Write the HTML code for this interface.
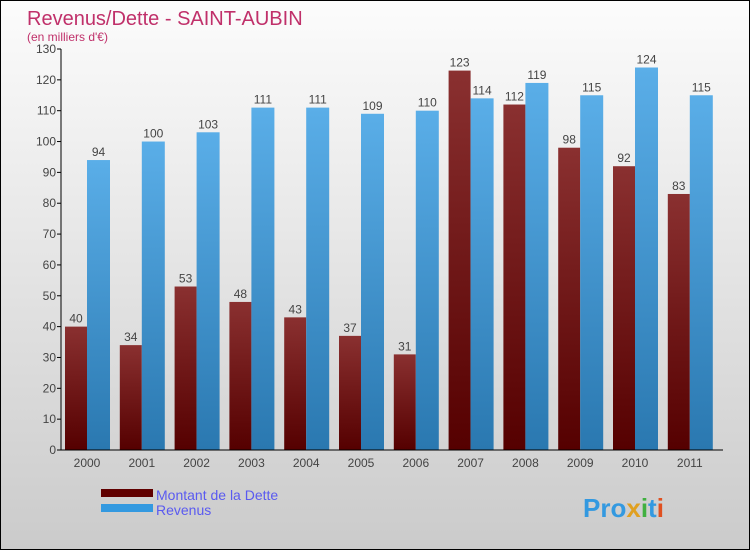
<!DOCTYPE html>
<html><head><meta charset="utf-8"><style>
body{margin:0}
#c{width:748px;height:548px;border:1px solid #000;background:linear-gradient(#fcfcfc,#cbcbcb);position:relative;font-family:"Liberation Sans",sans-serif}
</style></head><body>
<div id="c">
<svg width="748" height="548" id="s">
<defs>
<linearGradient id="gd" x1="0" y1="0" x2="0" y2="1"><stop offset="0" stop-color="#8a3030"/><stop offset="1" stop-color="#550000"/></linearGradient>
<linearGradient id="gr" x1="0" y1="0" x2="0" y2="1"><stop offset="0" stop-color="#5aaee8"/><stop offset="1" stop-color="#2a78b0"/></linearGradient>
</defs>
<text x="26" y="24" font-size="20" fill="#c0306a">Revenus/Dette - SAINT-AUBIN</text>
<text x="26" y="40" font-size="12" fill="#c0306a">(en milliers d'€)</text>
<g id="g"></g>
<rect x="100" y="488" width="52" height="8" fill="#600000"/>
<text x="155" y="499" font-size="14" fill="#5a5af0">Montant de la Dette</text>
<rect x="100" y="503" width="52" height="8" fill="#3399e0"/>
<text x="155" y="514" font-size="14" fill="#5a5af0">Revenus</text>
<text x="582" y="516" font-size="26" font-weight="bold" fill="#3399e0">Pro<tspan fill="#e0a020">x</tspan><tspan fill="#40b040">i</tspan>t<tspan fill="#e05020">i</tspan></text>
</svg>
</div>
<script>
const years=["2000","2001","2002","2003","2004","2005","2006","2007","2008","2009","2010","2011"];
const dette=[40,34,53,48,43,37,31,123,112,98,92,83];
const revenus=[94,100,103,111,111,109,110,114,119,115,124,115];
const ticks=[0,10,20,30,40,50,60,70,80,90,100,110,120,130];
const NS="http://www.w3.org/2000/svg";
const g=document.getElementById('g');
const y0=449,yTop=48,x0=60;
const y=v=>y0-(v/130)*(y0-yTop);
const cx=i=>86+i*54.8;
function mk(t,a,txt){const e=document.createElementNS(NS,t);for(const k in a)e.setAttribute(k,a[k]);if(txt!==undefined)e.textContent=txt;g.appendChild(e);return e;}
ticks.forEach(t=>{
 const tl=mk('line',{x1:x0-4,x2:x0,y1:y(t),y2:y(t),stroke:'#000'});
 
 
 const tx=mk('text',{x:x0-5,y:y(t)+4,'font-size':12,fill:'#444','text-anchor':'end'},t);
 
 
});
years.forEach((yr,i)=>{
 const c=cx(i);
 const b1=mk('rect',{x:c-22,y:y(dette[i]),width:22,height:y0-y(dette[i]),fill:'url(#gd)'});
 
 
 const b2=mk('rect',{x:c,y:y(revenus[i]),width:23,height:y0-y(revenus[i]),fill:'url(#gr)'});
 
 
 const l1=mk('text',{x:c-11,y:y(dette[i])-4,'font-size':12,fill:'#444','text-anchor':'middle'},dette[i]);
 
 
 const l2=mk('text',{x:c+11.5,y:y(revenus[i])-4,'font-size':12,fill:'#444','text-anchor':'middle'},revenus[i]);
 
 
 const xl=mk('text',{x:c,y:466,'font-size':12,fill:'#444','text-anchor':'middle'},yr);
 
 
});
const ya=mk('line',{x1:x0,x2:x0,y1:yTop,y2:y0,stroke:'#000'});


const xa=mk('line',{x1:x0-4,x2:722,y1:y0,y2:y0,stroke:'#000'});


</script>
</body></html>
